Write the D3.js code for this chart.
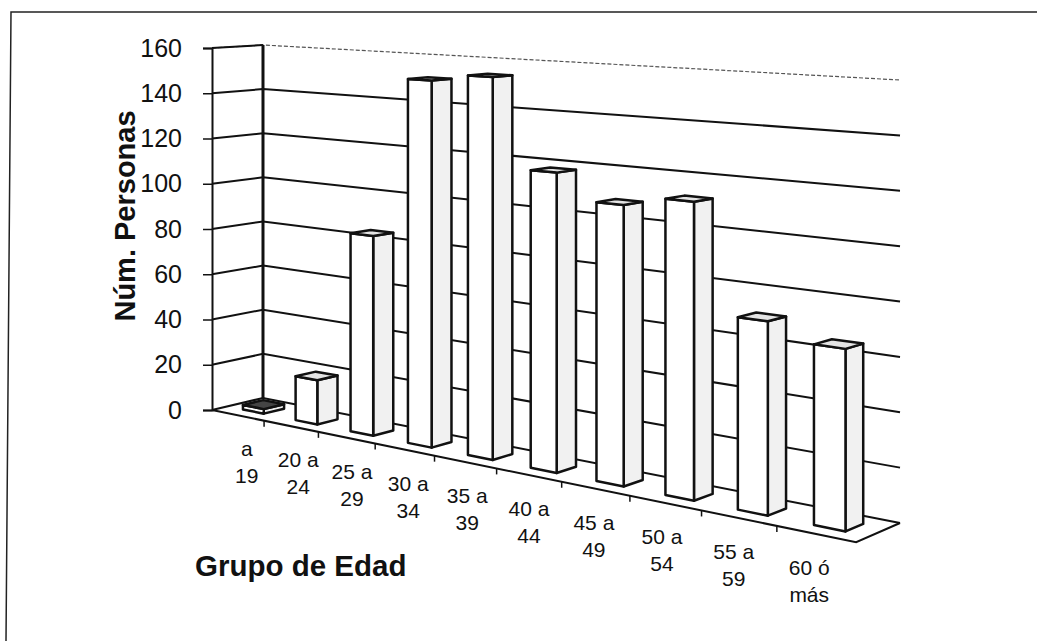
<!DOCTYPE html>
<html>
<head>
<meta charset="utf-8">
<script src="https://cdn.jsdelivr.net/npm/d3@7"></script>
<style>
  html, body { margin: 0; padding: 0; background: #fff; }
  svg { display: block; }
  text { font-family: "Liberation Sans", Arial, sans-serif; fill: #111; }
</style>
</head>
<body>
<svg id="chart" width="1037" height="641"></svg>
<script>
// ---- data ----
const categories = ["15 a 19", "20 a 24", "25 a 29", "30 a 34", "35 a 39", "40 a 44", "45 a 49", "50 a 54", "55 a 59", "60 ó más"];
const labelLine1 = ["a", "20 a", "25 a", "30 a", "35 a", "40 a", "45 a", "50 a", "55 a", "60 ó"];
const labelLine2 = ["19", "24", "29", "34", "39", "44", "49", "54", "59", "más"];
const values = [2, 19, 84, 151, 154, 118, 108, 112, 71, 65];
const yTicks = [0, 20, 40, 60, 80, 100, 120, 140, 160];
const yTitle = "Núm. Personas";
const xTitle = "Grupo de Edad";

// ---- 3D perspective projection (world: X category units 0..10, Y value, Z depth 0 front..1 back) ----
const P = { a0: 46.58, a2: 57.7, a3: 212, b0: 1.925, b1: -2.2625, b2: -1.85, b3: 410, c0: -0.02083, c2: 0.0255 };
function proj(X, Y, Z) {
  const w = 1 + P.c0 * X + P.c2 * Z;
  return [(P.a0 * X + P.a2 * Z + P.a3) / w, (P.b0 * X + P.b1 * Y + P.b2 * Z + P.b3) / w];
}

const svg = d3.select("#chart");

// scales
const xScale = d3.scaleBand().domain(categories).range([0, 10]).paddingInner(0.6).paddingOuter(0.3);
const yScale = d3.scaleLinear().domain([0, 160]).range([0, 160]);
const zFront = 0.3, zBack = 0.7;

const line = d3.line();

// outer frame
svg.append("path").attr("d", line([[6, 641], [11, 12], [1037, 12]]))
  .attr("fill", "none").attr("stroke", "#222").attr("stroke-width", 1.5);

// floor
const floorPts = [proj(0, 0, 0), proj(10, 0, 0), proj(10, 0, 1), proj(0, 0, 1)];
svg.append("path").attr("d", line(floorPts) + "Z").attr("fill", "#fff").attr("stroke", "none");

// gridlines (left wall + back wall)
const g = svg.append("g");
yTicks.forEach(t => {
  const y = yScale(t);
  const pts = [proj(0, y, 0), proj(0, y, 1), proj(10, y, 1)];
  const top = t === yTicks[yTicks.length - 1];
  g.append("path").attr("d", line(pts)).attr("fill", "none")
    .attr("stroke", top ? "#555" : "#111")
    .attr("stroke-width", top ? 1.2 : 2)
    .attr("stroke-dasharray", top ? "4,2" : null);
});
// solid top edge of left wall
g.append("path").attr("d", line([proj(0, 160, 0), proj(0, 160, 1)])).attr("stroke", "#111").attr("stroke-width", 2).attr("fill", "none");
// back-left corner edge
g.append("path").attr("d", line([proj(0, 0, 1), proj(0, 160, 1)])).attr("stroke", "#111").attr("stroke-width", 3).attr("fill", "none");

// floor edges
svg.append("path").attr("d", line([proj(0, 0, 0), proj(10, 0, 0), proj(10, 0, 1)]))
  .attr("fill", "none").attr("stroke", "#111").attr("stroke-width", 2);
// category tick marks on floor front edge
for (let i = 1; i < categories.length; i++) {
  const p = proj(i, 0, 0);
  svg.append("path").attr("d", line([p, [p[0], p[1] + 6]])).attr("stroke", "#111").attr("stroke-width", 1.5);
}

// y axis (front-left edge)
const yScreen = d3.scaleLinear().domain([0, 160]).range([proj(0, 0, 0)[1], proj(0, 160, 0)[1]]);
const yAxis = svg.append("g").attr("transform", `translate(${proj(0, 0, 0)[0]},0)`)
  .call(d3.axisLeft(yScreen).tickValues(yTicks).tickSize(9).tickPadding(21));
yAxis.select(".domain").attr("stroke", "#111").attr("stroke-width", 2);
yAxis.selectAll(".tick line").attr("stroke", "#111").attr("stroke-width", 1.5);
yAxis.selectAll(".tick text").attr("font-size", 25).attr("font-family", "Liberation Sans, Arial, sans-serif").attr("fill", "#111");

// bars (drawn left to right)
const bars = svg.append("g");
categories.forEach((c, i) => {
  const x0 = xScale(c), x1 = x0 + xScale.bandwidth();
  const h = yScale(values[i]);
  const front = [proj(x0, 0, zFront), proj(x1, 0, zFront), proj(x1, h, zFront), proj(x0, h, zFront)];
  const side = [proj(x1, 0, zFront), proj(x1, 0, zBack), proj(x1, h, zBack), proj(x1, h, zFront)];
  const top = [proj(x0, h, zFront), proj(x1, h, zFront), proj(x1, h, zBack), proj(x0, h, zBack)];
  const gb = bars.append("g").attr("stroke", "#111").attr("stroke-width", 2.5).attr("stroke-linejoin", "round");
  gb.append("path").attr("d", line(side) + "Z").attr("fill", "#f1f1f1");
  gb.append("path").attr("d", line(front) + "Z").attr("fill", "#fff");
  gb.append("path").attr("d", line(top) + "Z").attr("fill", i === 0 ? "#444" : "#e4e4e4");
});

// category labels (placed under the floor front edge)
const labels = svg.append("g").attr("text-anchor", "middle").attr("font-size", 21);
categories.forEach((c, i) => {
  const p = proj(xScale(c) + xScale.bandwidth() / 2, 0, 0);
  const dx = 9 - 1.75 * i;
  labels.append("text").attr("x", p[0] + dx).attr("y", p[1] + 41).text(labelLine1[i]);
  labels.append("text").attr("x", p[0] + dx).attr("y", p[1] + 68).text(labelLine2[i]);
});

// axis titles
svg.append("text").attr("transform", "translate(135,216) rotate(-90)")
  .attr("text-anchor", "middle").attr("font-size", 29).attr("font-weight", "bold").text(yTitle);
svg.append("text").attr("x", 195).attr("y", 576)
  .attr("font-size", 29.5).attr("font-weight", "bold").text(xTitle);
</script>
</body>
</html>
